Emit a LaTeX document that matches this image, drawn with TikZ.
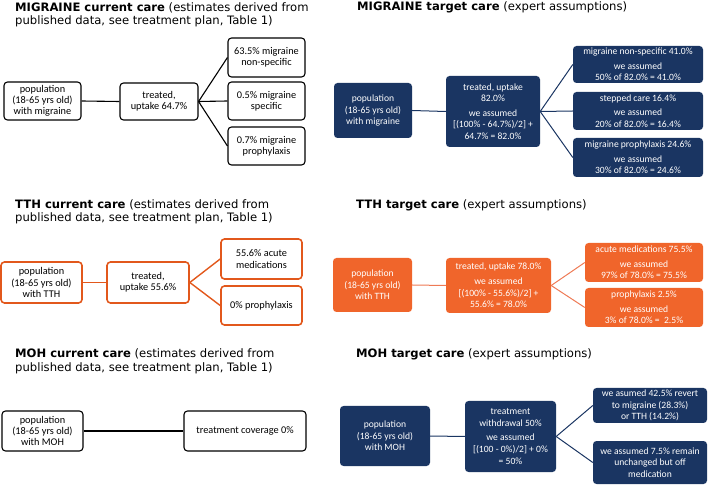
\documentclass[tikz,border=0pt]{standalone}
\usepackage{fontspec}
\setmainfont{Carlito}
\newfontfamily\titlefont{DejaVu Sans}
\definecolor{navyc}{HTML}{1A3562}
\definecolor{orangec}{HTML}{F0652B}
\definecolor{orangeline}{HTML}{E2581C}
\definecolor{salmonline}{HTML}{EE7A55}
\tikzset{
  base/.style={rounded corners=3.5pt, align=center, inner sep=0pt},
  curbox/.style={base, draw=black, line width=1.1pt, fill=white,
    font=\fontsize{10.3}{11.3}\selectfont},
  navybox/.style={base, fill=navyc, text=white,
    font=\fontsize{9.6}{11.6}\selectfont},
  tthcurbox/.style={base, draw=orangeline, line width=1.6pt, fill=white,
    font=\fontsize{10.3}{11.3}\selectfont},
  tthbox/.style={base, fill=orangec, text=white,
    font=\fontsize{9.6}{11.6}\selectfont},
  curline/.style={line width=1.1pt, draw=black},
  navyline/.style={line width=1pt, draw=navyc},
  oline/.style={line width=1.4pt, draw=orangeline},
  sline/.style={line width=1pt, draw=salmonline},
  ttl/.style={anchor=west, inner sep=0pt, font=\titlefont\fontsize{11.6}{13}\selectfont},
}
\begin{document}
\begin{tikzpicture}[x=1pt,y=-1pt]
\useasboundingbox (0,0) rectangle (710,486);

% ---------- titles ----------
\node[ttl] (tmc1) at (15,8) {\textbf{MIGRAINE current care} (estimates derived from};
\node[ttl] (tmc2) at (15,21) {published data, see treatment plan, Table 1)};
\node[ttl] (tmt) at (357,7) {\textbf{MIGRAINE target care} (expert assumptions)};
\node[ttl] (ttc1) at (15,205) {\textbf{TTH current care} (estimates derived from};
\node[ttl] (ttc2) at (15,218) {published data, see treatment plan, Table 1)};
\node[ttl] (ttt) at (356,205) {\textbf{TTH target care} (expert assumptions)};
\node[ttl] (toc1) at (15,354) {\textbf{MOH current care} (estimates derived from};
\node[ttl] (toc2) at (15,368) {published data, see treatment plan, Table 1)};
\node[ttl] (tot) at (356,354) {\textbf{MOH target care} (expert assumptions)};

% ---------- MIGRAINE current ----------
\node[curbox, minimum width=77pt, minimum height=38pt] (mp) at (42.5,101) {population\\(18-65 yrs old)\\with migraine};
\node[curbox, minimum width=78pt, minimum height=37pt] (mt) at (159,101.5) {treated,\\uptake 64.7\%};
\node[curbox, minimum width=77pt, minimum height=39pt] (m1) at (266.5,57.5) {63.5\% migraine\\non-specific};
\node[curbox, minimum width=77pt, minimum height=38pt] (m2) at (266.5,101) {0.5\% migraine\\specific};
\node[curbox, minimum width=77pt, minimum height=38pt] (m3) at (266.5,146) {0.7\% migraine\\prophylaxis};
\draw[curline] (mp.east) -- (mt.west);
\draw[curline] (mt.east) -- (m1.west);
\draw[curline] (mt.east) -- (m2.west);
\draw[curline] (mt.east) -- (m3.west);

% ---------- MIGRAINE target ----------
\node[navybox, minimum width=78pt, minimum height=55pt] (Mp) at (373,110.5) {population\\(18-65 yrs old)\\with migraine};
\node[navybox, minimum width=94pt, minimum height=71pt] (Mt) at (493,111.5) {treated, uptake\\82.0\%\\[3pt]we assumed\\{[(100\% - 64.7\%)/2] +}\\64.7\% = 82.0\%};
\node[navybox, minimum width=130pt, minimum height=37pt] (M1) at (638,64.5) {migraine non-specific 41.0\%\\[3pt]we assumed\\50\% of 82.0\% = 41.0\%};
\node[navybox, minimum width=130pt, minimum height=38pt] (M2) at (638,111) {stepped care 16.4\%\\[3pt]we assumed\\20\% of 82.0\% = 16.4\%};
\node[navybox, minimum width=130pt, minimum height=39pt] (M3) at (638,157.5) {migraine prophylaxis 24.6\%\\[3pt]we assumed\\30\% of 82.0\% = 24.6\%};
\draw[navyline] (Mp.east) -- (Mt.west);
\draw[navyline] (Mt.east) -- (M1.west);
\draw[navyline] (Mt.east) -- (M2.west);
\draw[navyline] (Mt.east) -- (M3.west);

% ---------- TTH current ----------
\node[tthcurbox, minimum width=81pt, minimum height=41pt] (tp) at (41.5,282.5) {population\\(18-65 yrs old)\\with TTH};
\node[tthcurbox, minimum width=82pt, minimum height=41pt] (tt) at (148,282.5) {treated,\\uptake 55.6\%};
\node[tthcurbox, minimum width=81pt, minimum height=40pt] (t1) at (261.5,259) {55.6\% acute\\medications};
\node[tthcurbox, minimum width=81pt, minimum height=39pt] (t2) at (261.5,305.5) {0\% prophylaxis};
\draw[oline] (tp.east) -- (tt.west);
\draw[oline] (tt.east) -- (t1.west);
\draw[oline] (tt.east) -- (t2.west);

% ---------- TTH target ----------
\node[tthbox, minimum width=79pt, minimum height=54pt] (Tp) at (372.5,285) {population\\(18-65 yrs old)\\with TTH};
\node[tthbox, minimum width=105pt, minimum height=55pt] (Tt) at (498.5,285.5) {treated, uptake 78.0\%\\[3pt]we assumed\\{[(100\% - 55.6\%)/2] +}\\55.6\% = 78.0\%};
\node[tthbox, minimum width=118pt, minimum height=39pt] (T1) at (644,262.5) {acute medications 75.5\%\\[3pt]we assumed\\97\% of 78.0\% = 75.5\%};
\node[tthbox, minimum width=118pt, minimum height=39pt] (T2) at (644,307.5) {prophylaxis 2.5\%\\[3pt]we assumed\\3\% of 78.0\% =\ \ 2.5\%};
\draw[sline] (Tp.east) -- (Tt.west);
\draw[sline] (Tt.east) -- (T1.west);
\draw[sline] (Tt.east) -- (T2.west);

% ---------- MOH current ----------
\node[curbox, minimum width=81pt, minimum height=40pt] (op) at (42.5,431) {population\\(18-65 yrs old)\\with MOH};
\node[curbox, minimum width=122pt, minimum height=40pt] (ot) at (245,431) {treatment coverage 0\%};
\draw[curline] (op.east) -- (ot.west);

% ---------- MOH target ----------
\node[navybox, minimum width=90pt, minimum height=60pt] (Op) at (385,436) {population\\(18-65 yrs old)\\with MOH};
\node[navybox, minimum width=91pt, minimum height=71pt] (Ot) at (510.5,436.5) {treatment\\withdrawal 50\%\\[3pt]we assumed\\{[(100 - 0\%)/2] + 0\%}\\= 50\%};
\node[navybox, minimum width=114pt, minimum height=35pt] (O1) at (650,405.5) {we asumed 42.5\% revert\\to migraine (28.3\%)\\or TTH (14.2\%)};
\node[navybox, minimum width=114pt, minimum height=43pt] (O2) at (650,462.5) {we assumed 7.5\% remain\\unchanged but off\\medication};
\draw[navyline] (Op.east) -- (Ot.west);
\draw[navyline] (Ot.east) -- (O1.west);
\draw[navyline] (Ot.east) -- (O2.west);
\end{tikzpicture}
\end{document}
